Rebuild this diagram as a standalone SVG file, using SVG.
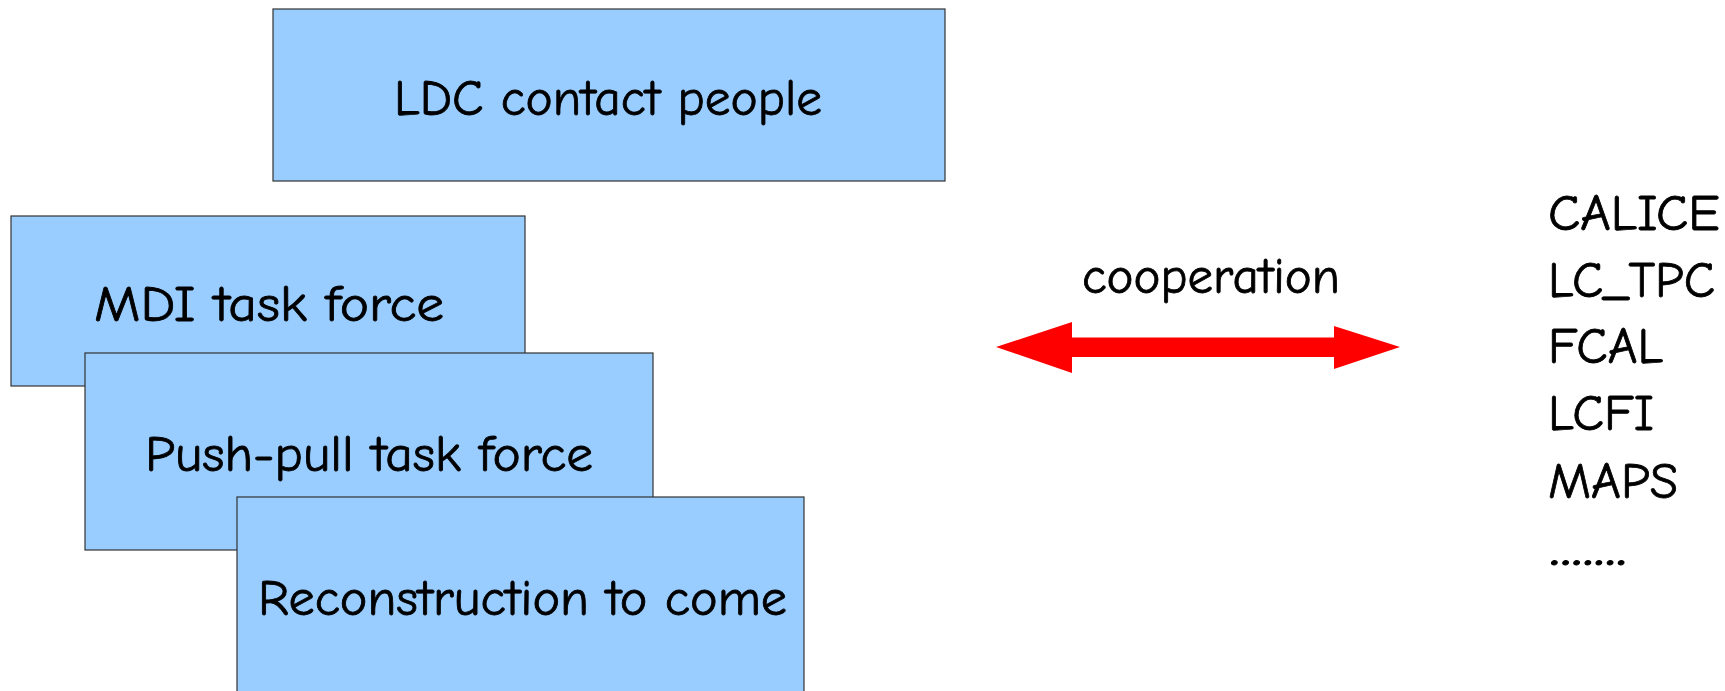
<svg xmlns="http://www.w3.org/2000/svg" width="1725" height="691" viewBox="0 0 1725 691">
<style>
.box{fill:#99ccff;stroke:#333333;stroke-width:1.2}
.t{font-family:"Comic Sans MS","Comic Neue","DejaVu Sans","Liberation Sans",sans-serif;font-size:50px;fill:#000;stroke:#000;stroke-width:0.8}
</style>
<rect width="1725" height="691" fill="#ffffff"/>
<g id="ldc">
<rect class="box" x="273" y="9" width="672" height="172"/>
<text class="t" x="394" y="115" textLength="428" lengthAdjust="spacingAndGlyphs">LDC contact people</text>
</g>
<g id="mdi">
<rect class="box" x="11" y="216" width="514" height="170"/>
<text class="t" x="94" y="321" textLength="350" lengthAdjust="spacingAndGlyphs">MDI task force</text>
</g>
<g id="pushpull">
<rect class="box" x="85" y="353" width="568" height="197"/>
<text class="t" x="145" y="471" textLength="448" lengthAdjust="spacingAndGlyphs">Push-pull task force</text>
</g>
<g id="reco">
<rect class="box" x="237" y="497" width="567" height="200"/>
<text class="t" x="258" y="615" textLength="529" lengthAdjust="spacingAndGlyphs">Reconstruction to come</text>
</g>
<g id="connectors">
<polygon fill="#ff0000" points="996,347 1072,322 1072,337.5 1334,337.5 1334,326 1400,347 1334,369 1334,357 1072,357 1072,373"/>
<text class="t" x="1082" y="293" textLength="258" lengthAdjust="spacingAndGlyphs">cooperation</text>
</g>
<g id="list">
<text class="t" x="1548" y="230" textLength="172" lengthAdjust="spacingAndGlyphs">CALICE</text>
<text class="t" x="1548" y="297" textLength="167" lengthAdjust="spacingAndGlyphs">LC_TPC</text>
<text class="t" x="1548" y="363" textLength="115" lengthAdjust="spacingAndGlyphs">FCAL</text>
<text class="t" x="1548" y="430" textLength="106" lengthAdjust="spacingAndGlyphs">LCFI</text>
<text class="t" x="1548" y="498" textLength="130" lengthAdjust="spacingAndGlyphs">MAPS</text>
<text class="t" x="1549" y="565" textLength="78" lengthAdjust="spacingAndGlyphs">.......</text>
</g>
</svg>
